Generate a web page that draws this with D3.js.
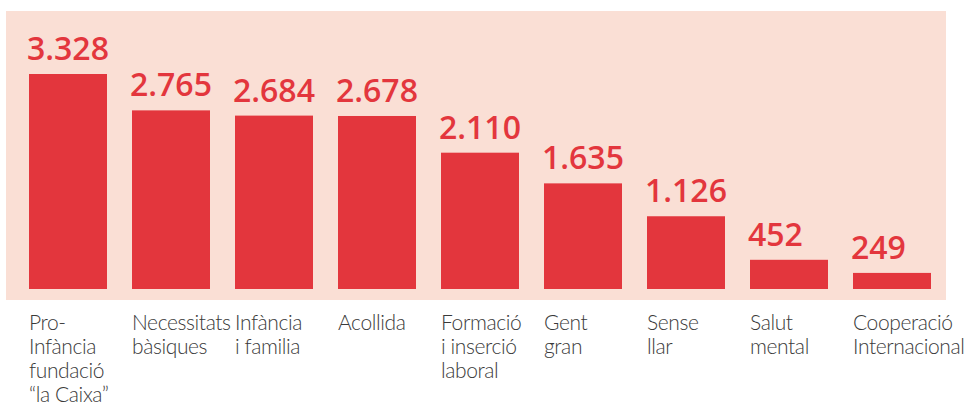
<!DOCTYPE html>
<html>
<head>
<meta charset="utf-8">
<script src="https://cdn.jsdelivr.net/npm/d3@7.9.0/dist/d3.min.js"></script>
<style>
  html, body { margin: 0; padding: 0; background: #fff; }
  svg { display: block; }
  .value { font-family: 'Open Sans', sans-serif; font-weight: 600; font-size: 32px; fill: #e3363d; }
  .cat { font-family: Lato, sans-serif; font-weight: 300; font-size: 21px; fill: #3a3a3a; letter-spacing: -0.4px; }
</style>
</head>
<body>
<svg id="chart" width="969" height="410"></svg>
<script>
// categories (one entry per label line) and values
const categories = ['Pro-Infància', 'Necessitats bàsiques', 'Infància i familia', 'Acollida',
  'Formació i inserció laboral', 'Gent gran', 'Sense llar', 'Salut mental', 'Cooperació Internacional'];
const labelLines = [
  ['Pro-', 'Infància', 'fundació', '“la Caixa”'],
  ['Necessitats', 'bàsiques'],
  ['Infància', 'i familia'],
  ['Acollida'],
  ['Formació', 'i inserció', 'laboral'],
  ['Gent', 'gran'],
  ['Sense', 'llar'],
  ['Salut', 'mental'],
  ['Cooperació', 'Internacional']
];
const values = [3328, 2765, 2684, 2678, 2110, 1635, 1126, 452, 249];

const svg = d3.select('#chart');

const fmt = d3.formatLocale({ decimal: ',', thousands: '.', grouping: [3], currency: ['', '€'] }).format(',d');

const x = d3.scaleBand()
  .domain(categories)
  .range([29, 931])
  .paddingInner(25 / 103);

const y = d3.scaleLinear()
  .domain([0, d3.max(values)])
  .range([289, 74]);

// pink panel
svg.append('rect')
  .attr('x', 6)
  .attr('y', 11)
  .attr('width', 940)
  .attr('height', 289)
  .attr('fill', '#fadfd5');

const data = categories.map((c, i) => ({ cat: c, value: values[i], lines: labelLines[i] }));

svg.selectAll('rect.bar')
  .data(data)
  .join('rect')
  .attr('class', 'bar')
  .attr('x', (d) => x(d.cat))
  .attr('y', (d) => y(d.value))
  .attr('width', x.bandwidth())
  .attr('height', (d) => y(0) - y(d.value))
  .attr('fill', '#e3363d');

svg.selectAll('text.value')
  .data(data)
  .join('text')
  .attr('class', 'value')
  .attr('x', (d) => x(d.cat) - 2)
  .attr('y', (d) => y(d.value) - 14)
  .text((d) => fmt(d.value));

const cats = svg.selectAll('text.cat')
  .data(data)
  .join('text')
  .attr('class', 'cat')
  .attr('x', (d) => x(d.cat))
  .attr('y', 330);

cats.selectAll('tspan')
  .data((d) => d.lines.map((l) => ({ l, x: x(d.cat) })))
  .join('tspan')
  .attr('x', (d) => d.x)
  .attr('dy', (d, i) => (i === 0 ? 0 : 24))
  .text((d) => d.l);
</script>
</body>
</html>
